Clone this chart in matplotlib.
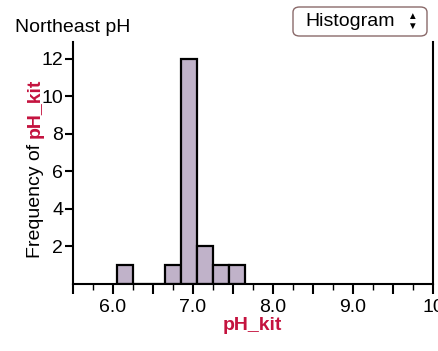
import numpy as np
import matplotlib
matplotlib.use("Agg")
import matplotlib.pyplot as plt
from matplotlib.patches import FancyBboxPatch
from matplotlib.ticker import FixedLocator

plt.rcParams['font.family'] = ['Liberation Sans', 'DejaVu Sans']

# Histogram of pH readings (bin edges and counts)
bin_edges = [6.05, 6.25, 6.45, 6.65, 6.85, 7.05, 7.25, 7.45, 7.65]
counts = [1, 0, 0, 1, 12, 2, 1, 1]
x_ticks = [6.0, 7.0, 8.0, 9.0, 10.0]
x_tick_labels = ["6.0", "7.0", "8.0", "9.0", "10"]
y_ticks = [2, 4, 6, 8, 10, 12]

RED = '#c4123e'
BAR = '#c0b2c9'
FS = 14

fig = plt.figure(figsize=(4.38, 3.51), dpi=100)
ax = fig.add_axes([73/438, 1 - 284/351, (433 - 73)/438, (284 - 42)/351])

lefts = np.array(bin_edges[:-1])
widths = np.diff(bin_edges)
ax.bar(lefts, counts, width=widths, align='edge', color=BAR,
       edgecolor='black', linewidth=1.6)

ax.set_xlim(5.5, 10.0)
ax.set_ylim(0, 12.9)
ax.set_xticks(x_ticks)
ax.set_xticklabels(x_tick_labels)
ax.set_yticks(y_ticks)

ax.spines['top'].set_visible(False)
for s in ('left', 'bottom', 'right'):
    ax.spines[s].set_linewidth(1.5)

ax.tick_params(axis='both', which='major', labelsize=FS, direction='out',
               width=1.5, colors='black')
ax.tick_params(axis='x', which='major', length=7, pad=4)
ax.tick_params(axis='y', which='major', length=6, pad=1)

# unlabeled ticks: long ones at the half-units, short ones at the quarters
halves = [v for v in np.arange(5.5, 10.01, 0.5) if v not in x_ticks]
quarters = list(np.arange(5.75, 10.0, 0.5))
ax.xaxis.set_minor_locator(FixedLocator(halves + quarters))
ax.tick_params(axis='x', which='minor', length=7, width=1.5)
for tick, v in zip(ax.xaxis.get_minor_ticks(), halves + quarters):
    if v in quarters:
        tick.tick1line.set_markersize(4)
        tick.tick1line.set_markeredgewidth(1.0)

# x-axis title
fig.text(252/438, 1 - 326/351, "pH_kit", color=RED, fontsize=FS,
         fontweight='bold', ha='center', va='center')

# y-axis title: black prefix followed by red variable name
t1 = fig.text(35/438, 1 - 258/351, "Frequency of ", rotation=90,
              fontsize=FS, ha='center', va='bottom')
plt.annotate("pH_kit", xy=(0.5, 1.0), xycoords=t1, rotation=90,
             fontsize=FS, fontweight='bold', color=RED,
             ha='center', va='bottom', annotation_clip=False)

# chart title
fig.text(15/438, 1 - 32/351, "Northeast pH", fontsize=FS, ha='left',
         va='baseline')

# display-mode selector box
box = FancyBboxPatch((293/438, 1 - 36/351), (427 - 293)/438, 29/351,
                     boxstyle="round,pad=0,rounding_size=0.015",
                     transform=fig.transFigure, facecolor='white',
                     edgecolor='#8a6a6a', linewidth=1.0)
fig.add_artist(box)
fig.text(305/438, 1 - 21/351, "Histogram", fontsize=FS, ha='left',
         va='center')
fig.text(412/438, 1 - 16/351, "\u25b2", fontsize=7, ha='center', va='center')
fig.text(412/438, 1 - 26/351, "\u25bc", fontsize=7, ha='center', va='center')

fig.savefig("out.png", dpi=100)
